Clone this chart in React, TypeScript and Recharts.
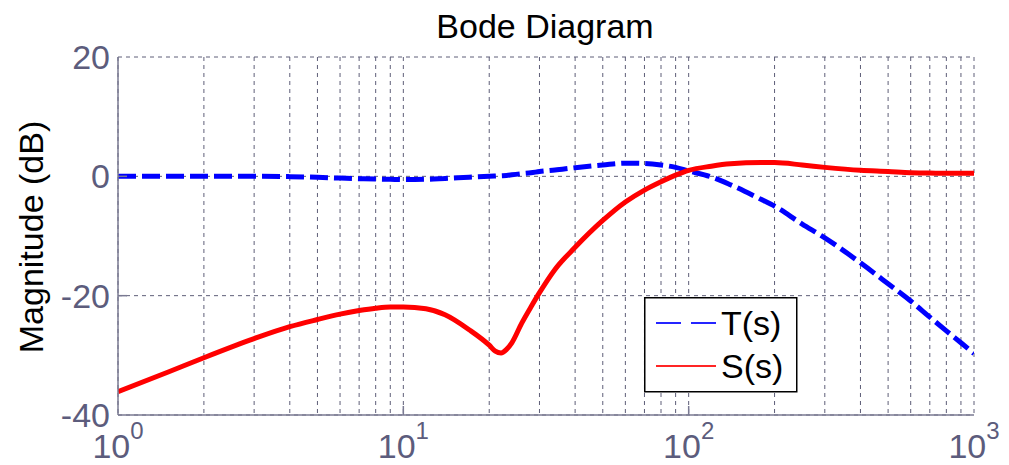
import React from 'react';
import { LineChart, Line, XAxis, YAxis, CartesianGrid, Legend } from 'recharts';

// Frequencies (rad/s) sampled along the log axis
const freqs = [1, 1.5, 2, 3, 4, 5, 6, 7, 8, 9, 10, 12, 14, 17, 20, 21, 22, 23, 24, 26, 28, 30, 34, 40, 50, 60, 70, 80, 90, 100, 120, 140, 180, 200, 250, 300, 400, 500, 600, 700, 800, 900, 1000];
// T(s) magnitude (dB)
const tMag = [0, 0, 0, 0, -0.05, -0.15, -0.3, -0.4, -0.45, -0.5, -0.55, -0.5, -0.35, -0.15, 0, 0.05, 0.1, 0.15, 0.25, 0.45, 0.6, 0.8, 1.05, 1.45, 1.9, 2.2, 2.15, 1.9, 1.5, 0.9, -0.1, -1.4, -3.9, -5.0, -8.0, -10.3, -14.5, -18.0, -20.9, -23.6, -25.9, -27.9, -29.7];
// S(s) magnitude (dB)
const sMag = [-36.1, -32.8, -30.4, -27.2, -25.2, -24.0, -23.1, -22.5, -22.1, -21.9, -21.9, -22.2, -23.2, -25.7, -28.3, -29.3, -29.6, -29.0, -27.9, -24.6, -21.9, -19.5, -15.6, -11.9, -7.4, -4.3, -2.3, -0.9, 0.2, 1.0, 1.7, 2.1, 2.3, 2.3, 1.9, 1.5, 1.0, 0.8, 0.6, 0.55, 0.5, 0.5, 0.5];

const xTicks = [1, 2, 3, 4, 5, 6, 7, 8, 9, 10, 20, 30, 40, 50, 60, 70, 80, 90, 100, 200, 300, 400, 500, 600, 700, 800, 900, 1000];
const yTicks = [-40, -20, 0, 20];
const seriesNames = ['T(s)', 'S(s)'];
const seriesColors = ['#0000ff', '#ff0000'];
const titleText = 'Bode Diagram';
const yLabelText = 'Magnitude (dB)';

const data = freqs.map((f, i) => ({ f, T: tMag[i], S: sMag[i] }));

const FONT = '"Liberation Sans", Arial, Helvetica, sans-serif';
const AXIS_COLOR = '#7a7a92';
const TICK_TEXT = '#5c5c7c';
const GRID_COLOR = '#5e5e78';

const isMajor = (v: number) => Math.abs(Math.log10(v) - Math.round(Math.log10(v))) < 1e-9;

const XTickBottom = (props: any) => {
  const { x, y, payload } = props;
  const v = payload.value;
  if (!isMajor(v)) return <g />;
  const exp = Math.round(Math.log10(v));
  const inner = exp > 0 && exp < 3;
  return (
    <g>
      {inner && <line x1={x} x2={x} y1={y} y2={y - 9} stroke={AXIS_COLOR} strokeWidth={1.5} />}
      <text x={x} y={y + 43} textAnchor="middle" fontFamily={FONT} fontSize={34} fill={TICK_TEXT}>
        <tspan>10</tspan>
        <tspan dy={-19} fontSize={24}>{exp}</tspan>
      </text>
    </g>
  );
};

const XTickTop = (props: any) => {
  const { x, y, payload } = props;
  const v = payload.value;
  if (!isMajor(v)) return <g />;
  const exp = Math.round(Math.log10(v));
  if (!(exp > 0 && exp < 3)) return <g />;
  return <line x1={x} x2={x} y1={y} y2={y + 9} stroke={AXIS_COLOR} strokeWidth={1.5} />;
};

const YTickLeft = (props: any) => {
  const { x, y, payload } = props;
  const v = payload.value;
  const inner = v > -40 && v < 20;
  return (
    <g>
      {inner && <line x1={x} x2={x + 9} y1={y} y2={y} stroke={AXIS_COLOR} strokeWidth={1.5} />}
      <text x={x - 8} y={y + 12} textAnchor="end" fontFamily={FONT} fontSize={34} fill={TICK_TEXT}>
        {v}
      </text>
    </g>
  );
};

const YTickRight = (props: any) => {
  const { x, y, payload } = props;
  const v = payload.value;
  if (!(v > -40 && v < 20)) return <g />;
  return <line x1={x} x2={x - 9} y1={y} y2={y} stroke={AXIS_COLOR} strokeWidth={1.5} />;
};

const LegendBox = () => (
  <svg width={154} height={96} style={{ display: 'block' }}>
    <rect x={0.75} y={0.75} width={152} height={94} fill="#ffffff" stroke="#000000" strokeWidth={1.5} />
    {seriesNames.map((name, i) => (
      <g key={name}>
        <line
          x1={12}
          x2={72}
          y1={26 + i * 43}
          y2={26 + i * 43}
          stroke={seriesColors[i]}
          strokeWidth={2}
          strokeDasharray={i === 0 ? '25 10' : undefined}
          opacity={0.85}
        />
        <text x={77} y={38 + i * 43} fontFamily={FONT} fontSize={34} fill="#000000">
          {name}
        </text>
      </g>
    ))}
  </svg>
);

export default function App() {
  return (
    <div style={{ position: 'absolute', left: 0, top: 0, width: 1009, height: 465, background: '#ffffff' }}>
      <LineChart width={1009} height={465} data={data} margin={{ top: 57, right: 35, bottom: 0, left: 0 }}>
        <CartesianGrid stroke={GRID_COLOR} strokeDasharray="4 4" strokeWidth={1} />
        <XAxis
          dataKey="f"
          type="number"
          scale="log"
          domain={[1, 1000]}
          allowDataOverflow
          ticks={xTicks}
          interval={0}
          height={50}
          tickSize={0}
          tickMargin={0}
          tickLine={false}
          axisLine={{ stroke: AXIS_COLOR, strokeWidth: 1.5 }}
          tick={<XTickBottom />}
        />
        <XAxis
          xAxisId="top"
          orientation="top"
          dataKey="f"
          type="number"
          scale="log"
          domain={[1, 1000]}
          allowDataOverflow
          ticks={xTicks}
          interval={0}
          height={0}
          tickSize={0}
          tickMargin={0}
          tickLine={false}
          axisLine={{ stroke: AXIS_COLOR, strokeWidth: 1.5 }}
          tick={<XTickTop />}
        />
        <YAxis
          type="number"
          domain={[-40, 20]}
          allowDataOverflow
          ticks={yTicks}
          interval={0}
          width={118}
          tickSize={0}
          tickMargin={0}
          tickLine={false}
          axisLine={{ stroke: AXIS_COLOR, strokeWidth: 1.5 }}
          tick={<YTickLeft />}
        />
        <YAxis
          yAxisId="right"
          orientation="right"
          type="number"
          domain={[-40, 20]}
          allowDataOverflow
          ticks={yTicks}
          interval={0}
          width={0}
          tickSize={0}
          tickMargin={0}
          tickLine={false}
          axisLine={{ stroke: AXIS_COLOR, strokeWidth: 1.5 }}
          tick={<YTickRight />}
        />
        <Line
          type="monotone"
          dataKey="T"
          name={seriesNames[0]}
          stroke={seriesColors[0]}
          strokeWidth={5}
          strokeDasharray="18 6"
          dot={false}
          activeDot={false}
          isAnimationActive={false}
        />
        <Line
          type="monotone"
          dataKey="S"
          name={seriesNames[1]}
          stroke={seriesColors[1]}
          strokeWidth={5}
          dot={false}
          activeDot={false}
          isAnimationActive={false}
        />
        <Legend
          layout="horizontal"
          verticalAlign="middle"
          align="center"
          content={() => <LegendBox />}
          wrapperStyle={{ position: 'absolute', left: 644, top: 297, width: 154, height: 96 }}
        />
      </LineChart>
      <svg
        width={1009}
        height={465}
        style={{ position: 'absolute', left: 0, top: 0, pointerEvents: 'none' }}
      >
        <text x={545} y={38} textAnchor="middle" fontFamily={FONT} fontSize={34} fill="#000000">
          {titleText}
        </text>
        <text
          transform="translate(43,237) rotate(-90)"
          textAnchor="middle"
          fontFamily={FONT}
          fontSize={34}
          fill="#000000"
        >
          {yLabelText}
        </text>
      </svg>
    </div>
  );
}
